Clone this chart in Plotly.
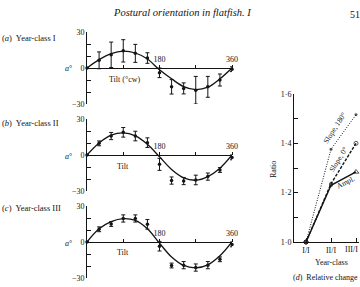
import plotly.graph_objects as go

W, H = 360, 287
def px(x): return x / W
def py(y): return 1 - y / H

# ---- data ----
tilt = [0, 30, 60, 90, 120, 150, 180, 210, 240, 270, 300, 330, 360]

a_mean = [0, 6.4, 11, 14.3, 12.2, 8.3, -4, -15.7, -17, -18.5, -15.7, -10, -1]
a_err = [0, 7, 10.6, 9.3, 7.5, 4.4, 4, 6, 4.6, 11.5, 8.7, 5, 2]
a_curve = [0, 7, 12, 14, 12.5, 7.5, -1.5, -9, -15.5, -18, -16, -9, 0]

b_mean = [0, 9.7, 15.8, 18.9, 15.8, 10.3, -7.8, -21.3, -21.7, -20.8, -18, -12.5, -2]
b_err = [0, 2, 3, 4, 4, 4, 5, 3, 3, 4, 3, 2, 2]
b_curve = [0, 10, 16.5, 18.5, 16, 9, -1.5, -12, -19, -21, -18, -11, 0]

c_mean = [0, 10.6, 15, 19.6, 19.6, 14.7, -3.5, -19.6, -19.3, -21.3, -19.3, -14.4, -2]
c_err = [0, 2, 2, 3, 3, 4, 4, 2, 3, 3, 3, 2, 2]
c_curve = [0, 11, 17, 19.5, 18, 11, -1, -12.5, -19.5, -21.5, -19, -11.5, 0]

year_class = ["I/I", "II/I", "III/I"]
slope180 = [1.0, 1.376, 1.516]
slope0 = [1.0, 1.236, 1.40]
ampl = [1.0, 1.23, 1.284]

FONT = "Liberation Serif, Times New Roman, serif"
INK = "#141414"

fig = go.Figure()

panels = [
    ("", a_mean, a_err, a_curve, 32, 68, 104),
    ("2", b_mean, b_err, b_curve, 119, 155, 191),
    ("3", c_mean, c_err, c_curve, 206, 242, 278),
]

layout = dict(
    template="none",
    width=W, height=H, margin=dict(l=0, r=0, t=0, b=0, pad=0),
    paper_bgcolor="white", plot_bgcolor="rgba(0,0,0,0)",
    showlegend=False, font=dict(family=FONT, size=8, color=INK),
)

for suf, mean, err, curve, ytop, yzero, ybot in panels:
    xa = "x" + suf
    ya = "y" + suf
    fig.add_trace(go.Scatter(
        x=tilt, y=curve, mode="lines", line=dict(color=INK, width=1.3, shape="spline"),
        xaxis=xa, yaxis=ya, cliponaxis=False, hoverinfo="skip"))
    fig.add_trace(go.Scatter(
        x=tilt, y=mean, mode="markers",
        marker=dict(color=INK, size=3.5),
        error_y=dict(type="data", array=err, visible=True, color=INK, thickness=1, width=2),
        xaxis=xa, yaxis=ya, cliponaxis=False))
    layout["xaxis" + suf] = dict(
        domain=[px(87), px(232)], range=[0, 360], anchor="free", position=py(yzero),
        side="top", showline=True, linecolor=INK, linewidth=1, automargin=False,
        tickvals=[90, 180, 270, 360], ticktext=["", "180", "", "360"],
        ticks="outside", ticklen=3, tickcolor=INK, showgrid=False, zeroline=False,
        tickfont=dict(size=8, family=FONT, color=INK), fixedrange=True)
    layout["yaxis" + suf] = dict(
        domain=[py(ybot), py(ytop)], range=[-30, 30], anchor=xa, automargin=False,
        showline=True, linecolor=INK, linewidth=1,
        tickvals=[-30, -20, -10, 0, 10, 20, 30],
        ticktext=["\u221230", "", "", "0", "", "", "30"],
        ticks="inside", ticklen=4, tickcolor=INK, showgrid=False, zeroline=False,
        tickfont=dict(size=8, family=FONT, color=INK), fixedrange=True)

# ---- panel (d) ----
xi = list(range(len(year_class)))
fig.add_trace(go.Scatter(
    x=xi, y=slope180, mode="lines+markers", xaxis="x4", yaxis="y4",
    line=dict(color=INK, width=1, dash="1px,1.5px"),
    marker=dict(symbol=["circle-open", "circle", "circle"], size=[4, 4, 4], color=INK),
    cliponaxis=False))
fig.add_trace(go.Scatter(
    x=xi, y=slope0, mode="lines+markers", xaxis="x4", yaxis="y4",
    line=dict(color=INK, width=1.4, dash="3px,1.5px"),
    marker=dict(symbol=["circle-open", "circle-open", "circle-open"], size=[4, 3, 4], color=INK),
    cliponaxis=False))
fig.add_trace(go.Scatter(
    x=xi, y=ampl, mode="lines+markers", xaxis="x4", yaxis="y4",
    line=dict(color=INK, width=1.4),
    marker=dict(symbol=["circle-open", "circle-open", "triangle-up-open"], size=[4, 3, 5], color=INK),
    cliponaxis=False))

layout["xaxis4"] = dict(
    domain=[px(294), px(359)], range=[-0.48, 2.12], anchor="y4", automargin=False,
    showline=True, linecolor=INK, linewidth=1,
    tickvals=xi, ticktext=year_class[:-1] + [""], ticks="inside", ticklen=4, tickcolor=INK,
    showgrid=False, zeroline=False, tickfont=dict(size=8, family=FONT, color=INK),
    fixedrange=True)
layout["yaxis4"] = dict(
    domain=[py(242), py(94)], range=[1.0, 1.6], anchor="x4", automargin=False,
    showline=True, linecolor=INK, linewidth=1,
    tickvals=[1.0, 1.1, 1.2, 1.3, 1.4, 1.5, 1.6],
    ticktext=["1\u00b70", "", "1\u00b72", "", "1\u00b74", "", "1\u00b76"],
    ticks="inside", ticklen=4, tickcolor=INK, showgrid=False, zeroline=False,
    tickfont=dict(size=8, family=FONT, color=INK), fixedrange=True)

fig.update_layout(**layout)

def ann(text, x, y, size=8, xanchor="center", angle=0):
    fig.add_annotation(text=text, x=px(x), y=py(y), xref="paper", yref="paper",
                       showarrow=False, xanchor=xanchor, yanchor="middle",
                       textangle=angle, font=dict(size=size, family=FONT, color=INK))

ann("<i>Postural orientation in flatfish. I</i>", 182, 13, size=10.5)
ann("51", 348, 14, size=10, xanchor="left")

ann("(<i>a</i>)  Year-class I", 0, 38, size=8.5, xanchor="left")
ann("(<i>b</i>)  Year-class II", 0, 123, size=8.5, xanchor="left")
ann("(<i>c</i>)  Year-class III", 0, 208, size=8.5, xanchor="left")

ann("<i>a</i>°", 68, 68)
ann("<i>a</i>°", 68, 156)
ann("<i>a</i>°", 68, 243)

ann("Tilt (°cw)", 124, 80)
ann("Tilt", 123, 166)
ann("Tilt", 123, 252)

# last x tick label kept inside the page edge
ann(year_class[-1], 360, 249, xanchor="right")

ann("Ratio", 273, 170, angle=-90)
ann("Year-class", 331, 262)
ann("(<i>d</i>)  Relative change", 291, 277, xanchor="left")

ann("Slope, 180°", 334, 128, size=7.5, angle=-57)
ann("Slope, 0°", 338, 159, size=7.5, angle=-58)
ann("Ampl.", 345, 182, size=7.5, angle=-27)

fig.write_html("out.html")
